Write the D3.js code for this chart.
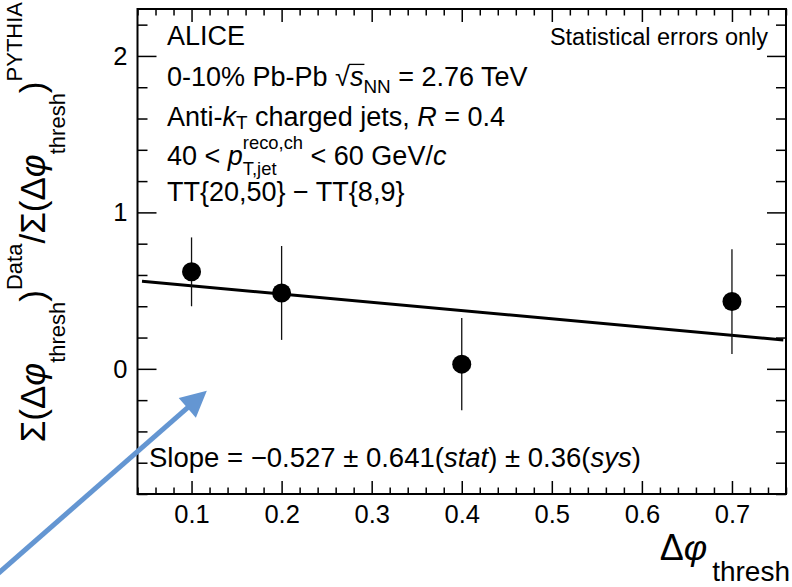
<!DOCTYPE html>
<html><head><meta charset="utf-8">
<script src="https://cdn.jsdelivr.net/npm/d3@7"></script>
<style>
body{margin:0;background:#fff;}
svg{display:block;}
text{font-family:"Liberation Sans",Arial,Helvetica,sans-serif;fill:#000;white-space:pre;}
</style></head><body>
<svg id="c" width="792" height="587"></svg>
<script>
// ---- data ----
const xValues = [0.1, 0.2, 0.4, 0.7];
const yValues = [0.62, 0.485, 0.03, 0.43];
const yErrors = [0.22, 0.30, 0.295, 0.335];
const fitSlope = -0.527;
const fitIntercept = 0.583;
const fitRange = [0.045, 0.757];
const xTickValues = [0.1, 0.2, 0.3, 0.4, 0.5, 0.6, 0.7];
const yTickValues = [0, 1, 2];
const xDomain = [0.04, 0.76];
const yDomain = [-0.8, 2.3];
const arrowTail = [-0.125, -1.36];
const arrowTip = [0.117, -0.14];

const W = 792, H = 587;
const m = {l: 137.5, r: 6, t: 9, b: 93};
const SERIF = '"Liberation Serif","Times New Roman",serif';
const SANS = '"Liberation Sans",Arial,Helvetica,sans-serif';

const x = d3.scaleLinear().domain(xDomain).range([m.l, W - m.r]);
const y = d3.scaleLinear().domain(yDomain).range([H - m.b, m.t]);
const svg = d3.select('#c');

// minor tick positions
const xMinor = d3.range(Math.round(xDomain[0]*50), Math.round(xDomain[1]*50)+1).map(v => v/50)
  .filter(v => !xTickValues.some(t => Math.abs(t - v) < 1e-6));
const yMinor = d3.range(Math.round(yDomain[0]*5), Math.round(yDomain[1]*5)+1).map(v => v/5)
  .filter(v => !yTickValues.some(t => Math.abs(t - v) < 1e-6));

function drawAxis(gen, tr, ticks, len, labels, pad, fs) {
  const g = svg.append('g').attr('transform', tr)
    .call(gen.tickValues(ticks).tickSizeInner(-len).tickSizeOuter(0).tickPadding(pad)
      .tickFormat(labels ? labels : () => ''));
  g.select('.domain').remove();
  g.selectAll('line').attr('stroke', '#000').attr('stroke-width', 1.5);
  g.selectAll('text').attr('font-size', fs).attr('font-family', SANS).attr('fill', '#000');
  return g;
}
const fmtX = d3.format('.1f');
drawAxis(d3.axisBottom(x), `translate(0,${H - m.b})`, xTickValues, 13, fmtX, 11, 25.5);
drawAxis(d3.axisBottom(x), `translate(0,${H - m.b})`, xMinor, 6.5, null, 0, 1);
drawAxis(d3.axisTop(x), `translate(0,${m.t})`, xTickValues, 13, null, 0, 1);
drawAxis(d3.axisTop(x), `translate(0,${m.t})`, xMinor, 6.5, null, 0, 1);
drawAxis(d3.axisLeft(y), `translate(${m.l},0)`, yTickValues, 19, d3.format('d'), 10, 25.5);
drawAxis(d3.axisLeft(y), `translate(${m.l},0)`, yMinor, 10, null, 0, 1);
drawAxis(d3.axisRight(y), `translate(${W - m.r},0)`, yTickValues, 19, null, 0, 1);
drawAxis(d3.axisRight(y), `translate(${W - m.r},0)`, yMinor, 10, null, 0, 1);

svg.append('rect').attr('x', m.l).attr('y', m.t)
  .attr('width', W - m.r - m.l).attr('height', H - m.b - m.t)
  .attr('fill', 'none').attr('stroke', '#000').attr('stroke-width', 2);

// ---- fit line ----
svg.append('line')
  .attr('x1', x(fitRange[0])).attr('y1', y(fitIntercept + fitSlope*fitRange[0]))
  .attr('x2', x(fitRange[1])).attr('y2', y(fitIntercept + fitSlope*fitRange[1]))
  .attr('stroke', '#000').attr('stroke-width', 3);

// ---- points ----
const pts = xValues.map((v, i) => ({x: v, y: yValues[i], e: yErrors[i]}));
svg.append('g').selectAll('line').data(pts).join('line')
  .attr('x1', d => x(d.x)).attr('x2', d => x(d.x))
  .attr('y1', d => y(d.y - d.e)).attr('y2', d => y(d.y + d.e))
  .attr('stroke', '#111').attr('stroke-width', 1.3);
svg.append('g').selectAll('circle').data(pts).join('circle')
  .attr('cx', d => x(d.x)).attr('cy', d => y(d.y)).attr('r', 9.5).attr('fill', '#000');

// ---- rich text helper ----
function mk(parent, cx, y0, s, size) {
  const k = s.k || (s.pos ? 0.7 : 1);
  let dy = 0;
  if (s.pos === 'sub') dy = size * (s.sd != null ? s.sd : 0.3);
  if (s.pos === 'sup') dy = -size * (s.ud != null ? s.ud : 0.42);
  return parent.append('text').attr('x', cx).attr('y', y0 + dy)
    .attr('font-size', size * k).attr('font-style', s.i ? 'italic' : null)
    .attr('font-family', s.f || SANS).text(s.t);
}
function rich(parent, x0, y0, segs, size) {
  let cx = x0;
  segs.forEach(s => {
    cx += (s.gap || 0);
    if (s.stack) {
      let mw = 0;
      s.stack.forEach(p => { mw = Math.max(mw, mk(parent, cx, y0, p, size).node().getComputedTextLength()); });
      cx += mw;
    } else {
      const t = mk(parent, cx, y0, s, size);
      const w = t.node().getComputedTextLength();
      if (s.over) {
        parent.append('line').attr('x1', cx - 1).attr('x2', cx + w + 1)
          .attr('y1', y0 - size*0.8).attr('y2', y0 - size*0.8)
          .attr('stroke', '#000').attr('stroke-width', 1.3);
      }
      cx += w;
    }
  });
  return cx;
}

// ---- legend text ----
const LS = 27, LX = 167;
const leg = svg.append('g');
rich(leg, LX, 45, [{t: 'ALICE'}], LS);
rich(leg, LX, 86, [{t: '0-10% Pb-Pb '}, {t: '√'}, {t: 's', i: true, over: true},
  {t: 'NN', pos: 'sub', sd: 0.25}, {t: ' = 2.76 TeV'}], LS);
rich(leg, LX, 126, [{t: 'Anti-'}, {t: 'k', i: true}, {t: 'T', pos: 'sub', sd: 0.12},
  {t: ' charged jets, '}, {t: 'R', i: true}, {t: ' = 0.4'}], LS);
rich(leg, LX, 165, [{t: '40 < '}, {t: 'p', i: true},
  {stack: [{t: 'reco,ch', pos: 'sup', ud: 0.6, k: 0.68}, {t: 'T,jet', pos: 'sub', sd: 0.36, k: 0.68}]},
  {t: ' < 60 GeV/'}, {t: 'c', i: true}], LS);
rich(leg, LX, 201, [{t: 'TT{20,50} − TT{8,9}'}], LS);
svg.append('text').attr('x', 768).attr('y', 45).attr('text-anchor', 'end')
  .attr('font-size', 23.5).text('Statistical errors only');

rich(svg.append('g'), 149, 467, [{t: 'Slope = −0.527 ± 0.641('}, {t: 'stat', i: true},
  {t: ') ± 0.36('}, {t: 'sys', i: true}, {t: ')'}], 27.5);

// ---- axis titles ----
const xt = svg.append('g');
const xtEnd = rich(xt, 0, 0, [{t: 'Δ', f: SERIF}, {t: 'φ', f: SERIF, i: true},
  {t: 'thresh', pos: 'sub', k: 28/36, sd: 0.58, gap: 5}], 36);
xt.attr('transform', `translate(${790 - xtEnd},560)`);

const yt = svg.append('g');
const YM = 35, yk = 22/35;
const ytEnd = rich(yt, 0, 0, [
  {t: 'Σ(Δ', f: SERIF}, {t: 'φ', f: SERIF, i: true},
  {t: 'thresh', pos: 'sub', k: yk, sd: 0.57}, {t: ')', f: SERIF},
  {t: 'Data', pos: 'sup', k: yk, ud: 0.66}, {t: '/', f: SERIF},
  {t: 'Σ(Δ', f: SERIF}, {t: 'φ', f: SERIF, i: true},
  {t: 'thresh', pos: 'sub', k: yk, sd: 0.57}, {t: ')', f: SERIF},
  {t: 'PYTHIA', pos: 'sup', k: yk, ud: 0.66}], YM);
yt.attr('transform', `translate(45,${2 + ytEnd}) rotate(-90)`);

// ---- annotation arrow ----
const ARROW = '#6496d2';
const tx = x(arrowTail[0]), ty = y(arrowTail[1]);
const hx = x(arrowTip[0]), hy = y(arrowTip[1]);
const ang = Math.atan2(hy - ty, hx - tx);
const hl = 26, hw = 13;
const bx = hx - hl*Math.cos(ang), by = hy - hl*Math.sin(ang);
svg.append('line').attr('x1', tx).attr('y1', ty).attr('x2', bx + 2*Math.cos(ang)).attr('y2', by + 2*Math.sin(ang))
  .attr('stroke', ARROW).attr('stroke-width', 5);
svg.append('path').attr('d', d3.line()([[hx, hy],
  [bx + hw*Math.sin(ang), by - hw*Math.cos(ang)],
  [bx - hw*Math.sin(ang), by + hw*Math.cos(ang)]]) + 'Z')
  .attr('fill', ARROW);
</script>
</body></html>
